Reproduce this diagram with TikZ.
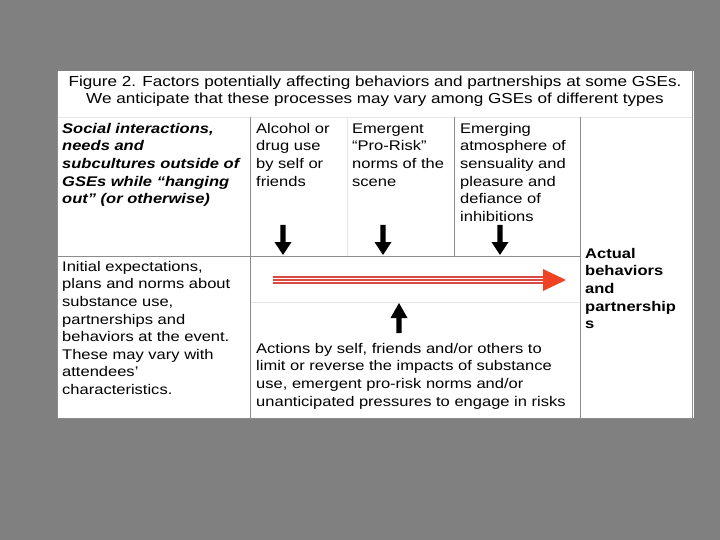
\documentclass[tikz,border=0pt]{standalone}
\usepackage{fontspec}
\setmainfont[FakeStretch=1.18]{Liberation Sans}
\definecolor{bggray}{HTML}{808080}
\definecolor{rulegray}{HTML}{8C8C8C}
\definecolor{faintgray}{HTML}{E6E6E6}
\definecolor{shaftred}{HTML}{D94A40}
\definecolor{headred}{HTML}{EE4424}
\tikzset{
  txt/.style={anchor=north west, inner sep=0pt, align=left, font=\fontsize{14}{17.6}\selectfont},
  rule/.style={draw=rulegray, line width=0.9pt},
  faint/.style={draw=faintgray, line width=0.8pt},
  blackarrow/.style={fill=black, draw=none},
}
% baseline of first line = y + 12.32
\begin{document}
\begin{tikzpicture}[x=1pt,y=-1pt]
\useasboundingbox (0,0) rectangle (720,540);
\fill[bggray] (0,0) rectangle (720,540);
\fill[white] (57,71) rectangle (694,418);
% table rules
\draw[faint] (57,117) -- (692,117);
\draw[faint] (250,302) -- (580,302);
\draw[faint] (347,117) -- (347,256);
\draw[rule] (57,418) -- (692,418);
\draw[rule] (57,71) -- (57,418);
\draw[rule] (692,71) -- (692,418);
\draw[rule] (250,117) -- (250,418);
\draw[rule] (580,117) -- (580,418);
\draw[rule] (454,117) -- (454,256);
\draw[rule] (57,256) -- (580,256);
% title
\node[anchor=north, inner sep=0pt, align=center, font=\fontsize{14.5}{17.8}\selectfont] (title) at (375,73.5)
  {\strut Figure 2. Factors potentially affecting behaviors and partnerships at some GSEs.\\
   We anticipate that these processes may vary among GSEs of different types};
% texts
\node[txt, font=\fontsize{14}{17.6}\selectfont\bfseries\itshape] (social) at (62,120.7)
  {\strut Social interactions,\\needs and\\subcultures outside of\\GSEs while “hanging\\out” (or otherwise)};
\node[txt] (alcohol) at (256,120.7) {\strut Alcohol or\\drug use\\by self or\\friends};
\node[txt] (norms) at (352,120.7) {\strut Emergent\\“Pro-Risk”\\norms of the\\scene};
\node[txt] (atmos) at (460,120.7) {\strut Emerging\\atmosphere of\\sensuality and\\pleasure and\\defiance of\\inhibitions};
\node[txt] (initial) at (62,258.7) {\strut Initial expectations,\\plans and norms about\\substance use,\\partnerships and\\behaviors at the event.\\These may vary with\\attendees’\\characteristics.};
\node[txt] (actions) at (256,340.7) {\strut Actions by self, friends and/or others to\\limit or reverse the impacts of substance\\use, emergent pro-risk norms and/or\\unanticipated pressures to engage in risks};
\node[txt, font=\fontsize{14}{17.6}\selectfont\bfseries] (actual) at (585,245.7) {\strut Actual\\behaviors\\and\\partnership\\s};
% down arrows
\foreach \x in {283,383,500}{
  \fill[blackarrow] (\x-2.6,225) -- (\x+2.6,225) -- (\x+2.6,242) -- (\x+8.5,242) -- (\x,255) -- (\x-8.5,242) -- (\x-2.6,242) -- cycle;
}
% up arrow
\fill[blackarrow] (399-2.6,333) -- (399+2.6,333) -- (399+2.6,318) -- (399+8.5,318) -- (399,303) -- (399-8.5,318) -- (399-2.6,318) -- cycle;
% red arrow
\fill[shaftred] (273,276) rectangle (545,284);
\draw[white, line width=0.8pt] (273,278.7) -- (545,278.7);
\draw[white, line width=0.8pt] (273,281.3) -- (545,281.3);
\fill[headred] (543,269) -- (566,280) -- (543,291) -- cycle;
\end{tikzpicture}
\end{document}
